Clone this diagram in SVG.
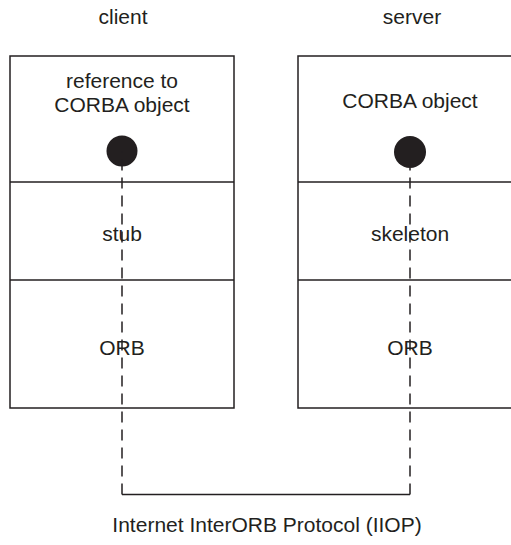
<svg xmlns="http://www.w3.org/2000/svg" width="511" height="545" viewBox="0 0 511 545">
  <style>
    .box { fill: #ffffff; stroke: #231f20; stroke-width: 1.5; }
    .div { stroke: #231f20; stroke-width: 1.5; }
    .lbl { font-family: "Liberation Sans", Arial, sans-serif; font-size: 21px; fill: #231f20; text-anchor: middle; }
    .dot { fill: #231f20; }
    .dash { fill: none; stroke: #231f20; stroke-width: 1.5; stroke-dasharray: 11 7; }
    .solid { fill: none; stroke: #231f20; stroke-width: 1.5; }
  </style>
  <rect width="511" height="545" fill="#ffffff"/>

  <!-- column headings -->
  <text class="lbl" x="123" y="24">client</text>
  <text class="lbl" x="412" y="24">server</text>

  <!-- client stack -->
  <g id="client">
    <rect class="box" x="10" y="56" width="224" height="352"/>
    <line class="div" x1="10" y1="182" x2="234" y2="182"/>
    <line class="div" x1="10" y1="280" x2="234" y2="280"/>
    <g id="client-ref">
      <text class="lbl" x="122" y="88">reference to</text>
      <text class="lbl" x="122" y="112">CORBA object</text>
      <circle class="dot" cx="122" cy="151" r="15.5"/>
    </g>
    <text id="stub" class="lbl" x="122" y="241">stub</text>
    <text id="client-orb" class="lbl" x="122" y="355">ORB</text>
  </g>

  <!-- server stack -->
  <g id="server">
    <rect class="box" x="298" y="56" width="224" height="352"/>
    <line class="div" x1="298" y1="182" x2="522" y2="182"/>
    <line class="div" x1="298" y1="280" x2="522" y2="280"/>
    <g id="server-obj">
      <text class="lbl" x="410" y="108">CORBA object</text>
      <circle class="dot" cx="410" cy="152" r="16"/>
    </g>
    <text id="skeleton" class="lbl" x="410" y="241">skeleton</text>
    <text id="server-orb" class="lbl" x="410" y="355">ORB</text>
  </g>

  <!-- IIOP connection -->
  <g id="connectors">
    <path class="dash" d="M122 494.5 V151"/>
    <path class="dash" d="M410 494.5 V168"/>
    <path class="solid" d="M122 494.5 H410"/>
  </g>
  <text id="iiop" class="lbl" x="267" y="532">Internet InterORB Protocol (IIOP)</text>
</svg>
